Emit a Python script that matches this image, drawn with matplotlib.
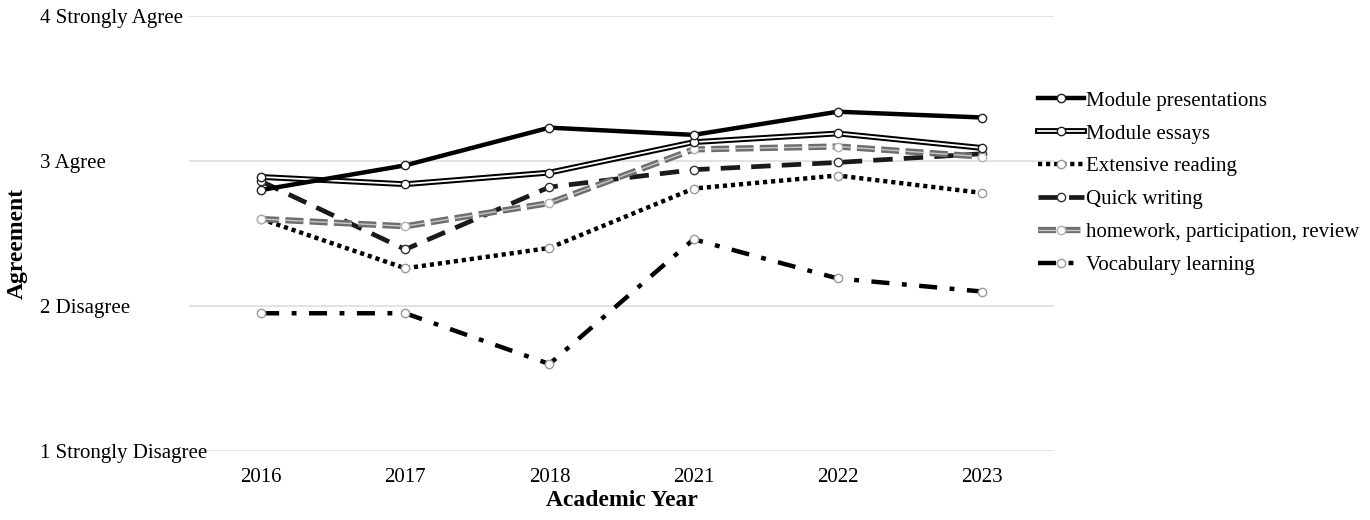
import matplotlib
matplotlib.use('Agg')
import matplotlib.pyplot as plt

# Datos
years = ['2016', '2017', '2018', '2021', '2022', '2023']
presentations = [2.80, 2.97, 3.23, 3.18, 3.34, 3.30]
essays = [2.89, 2.84, 2.92, 3.13, 3.19, 3.09]
extensive_reading = [2.60, 2.26, 2.40, 2.81, 2.90, 2.78]
quick_writing = [2.86, 2.39, 2.82, 2.94, 2.99, 3.05]
homework = [2.60, 2.55, 2.71, 3.08, 3.10, 3.03]
vocabulary = [1.95, 1.95, 1.60, 2.46, 2.19, 2.10]

ytick_labels = ['1 Strongly Disagree', '2 Disagree', '3 Agree', '4 Strongly Agree']

plt.rcParams['font.family'] = ['Liberation Serif', 'DejaVu Serif']
plt.rcParams['lines.scale_dashes'] = False

fig = plt.figure(figsize=(13.7, 5.2), dpi=100)
ax = fig.add_axes([189 / 1370, 1 - 451 / 520, 865 / 1370, 435 / 520])

x = list(range(len(years)))
mk = dict(marker='o', markersize=6, markerfacecolor='white', markeredgewidth=1)

# Vocabulario (raya-punto)
l_voc = ax.plot(x, vocabulary, color='black', lw=3.2, dashes=(13, 9, 3.5, 9),
                dash_capstyle='butt', markeredgecolor='#9a9a9a', **mk, zorder=3)[0]
# Lectura extensiva (punteado)
l_ext = ax.plot(x, extensive_reading, color='black', lw=3.2, dashes=(3, 2.8),
                dash_capstyle='butt', markeredgecolor='#9a9a9a', **mk, zorder=3)[0]
# Quick writing (rayas largas)
l_qw = ax.plot(x, quick_writing, color='#1a1a1a', lw=3.4, dashes=(14, 8),
               dash_capstyle='butt', markeredgecolor='#333333', **mk, zorder=4)[0]
# Homework (rayas grises dobles)
l_hw_a = ax.plot(x, homework, color='#6e6e6e', lw=4.5, dashes=(13, 4.5), zorder=5)[0]
l_hw_b = ax.plot(x, homework, color='#c8c8c8', lw=1.0, dashes=(13, 4.5), zorder=5)[0]
l_hw_m = ax.plot(x, homework, ls='none', markeredgecolor='#b0b0b0', **mk, zorder=5)[0]
# Module essays (línea doble)
l_es_a = ax.plot(x, essays, color='black', lw=4.2, zorder=6)[0]
l_es_b = ax.plot(x, essays, color='white', lw=1.3, zorder=6)[0]
l_es_m = ax.plot(x, essays, ls='none', markeredgecolor='#222222', **mk, zorder=6)[0]
# Module presentations (sólida)
l_pr = ax.plot(x, presentations, color='black', lw=3.2, markeredgecolor='#222222',
               **mk, zorder=7)[0]

ax.set_xlim(-0.5, len(years) - 0.5)
ax.set_ylim(1, 4)
ax.set_xticks(x)
ax.set_xticklabels(years, fontsize=15)
ax.set_yticks([1, 2, 3, 4])
ax.set_yticklabels(ytick_labels, fontsize=15, ha='left')
ax.tick_params(axis='y', length=0, pad=107)
ax.tick_params(axis='x', length=0, pad=12)

for s in ax.spines.values():
    s.set_visible(False)
ax.grid(axis='y', color='#dedede', lw=1.2)
ax.set_axisbelow(True)

ax.set_xlabel('Academic Year', fontsize=17, fontweight='bold')
ax.set_ylabel('Agreement', fontsize=17, fontweight='bold')
ax.xaxis.set_label_coords(0.501, -0.09)
ax.yaxis.set_label_coords(-0.186, 0.478)

handles = [l_pr, (l_es_a, l_es_b, l_es_m), l_ext, l_qw, (l_hw_a, l_hw_b, l_hw_m), l_voc]
labels = ['Module presentations', 'Module essays', 'Extensive reading',
          'Quick writing', 'homework, participation, review', 'Vocabulary learning']
fig.legend(handles, labels, loc='upper left', bbox_to_anchor=(1038 / 1370, 1 - 91 / 520),
           frameon=False, fontsize=15, handlelength=2.2, handletextpad=0.1,
           labelspacing=0.64, borderpad=0, borderaxespad=0, numpoints=1)

fig.savefig('out.png', dpi=100)
